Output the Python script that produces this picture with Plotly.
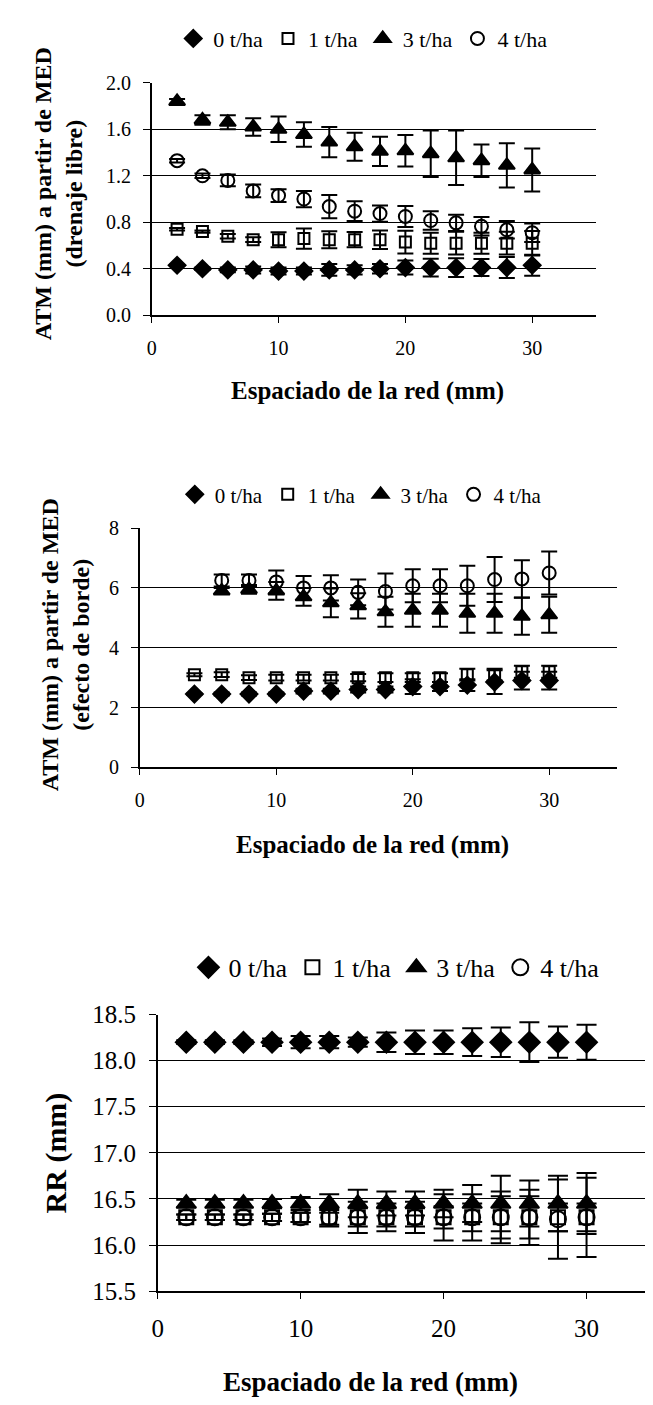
import plotly.graph_objects as go

# ---------------- data ----------------
x_free = [2, 4, 6, 8, 10, 12, 14, 16, 18, 20, 22, 24, 26, 28, 30]
free_0 = [0.43, 0.40, 0.39, 0.39, 0.38, 0.38, 0.39, 0.39, 0.40, 0.41, 0.41, 0.41, 0.41, 0.41, 0.43]
free_0_err = [0.005, 0.01, 0.02, 0.03, 0.03, 0.03, 0.05, 0.04, 0.04, 0.06, 0.077, 0.08, 0.073, 0.09, 0.09]
free_1 = [0.74, 0.72, 0.68, 0.65, 0.65, 0.66, 0.65, 0.65, 0.65, 0.63, 0.62, 0.62, 0.62, 0.62, 0.62]
free_1_err = [0.01, 0.01, 0.02, 0.02, 0.065, 0.087, 0.073, 0.066, 0.08, 0.098, 0.09, 0.098, 0.09, 0.098, 0.105]
free_3 = [1.84, 1.68, 1.66, 1.62, 1.60, 1.555, 1.49, 1.45, 1.41, 1.415, 1.39, 1.355, 1.33, 1.29, 1.25]
free_3_err = [0.02, 0.04, 0.06, 0.075, 0.11, 0.105, 0.13, 0.12, 0.125, 0.135, 0.2, 0.235, 0.14, 0.19, 0.185]
free_4 = [1.33, 1.20, 1.16, 1.07, 1.03, 1.00, 0.935, 0.895, 0.875, 0.85, 0.815, 0.795, 0.765, 0.735, 0.71]
free_4_err = [0.015, 0.02, 0.05, 0.055, 0.055, 0.07, 0.1, 0.085, 0.07, 0.09, 0.08, 0.07, 0.08, 0.075, 0.08]

x_edge_a = [4, 6, 8, 10, 12, 14, 16, 18, 20, 22, 24, 26, 28, 30]
x_edge_b = [6, 8, 10, 12, 14, 16, 18, 20, 22, 24, 26, 28, 30]
edge_0 = [2.45, 2.45, 2.45, 2.45, 2.55, 2.55, 2.6, 2.6, 2.7, 2.7, 2.75, 2.85, 2.9, 2.9]
edge_0_err = [0.02, 0.05, 0.05, 0.05, 0.08, 0.08, 0.1, 0.1, 0.25, 0.15, 0.2, 0.4, 0.3, 0.3]
edge_1 = [3.1, 3.1, 3.0, 3.0, 3.0, 3.0, 3.0, 3.0, 3.0, 3.0, 3.1, 3.1, 3.2, 3.2]
edge_1_err = [0.05, 0.08, 0.08, 0.1, 0.1, 0.1, 0.12, 0.15, 0.15, 0.15, 0.2, 0.2, 0.2, 0.2]
edge_3 = [5.9, 5.95, 5.9, 5.7, 5.5, 5.4, 5.2, 5.25, 5.25, 5.15, 5.15, 5.05, 5.1]
edge_3_err = [0.1, 0.15, 0.3, 0.3, 0.48, 0.42, 0.5, 0.55, 0.55, 0.65, 0.65, 0.62, 0.6]
edge_4 = [6.25, 6.25, 6.2, 6.0, 6.0, 5.85, 5.88, 6.07, 6.07, 6.07, 6.28, 6.3, 6.5]
edge_4_err = [0.2, 0.2, 0.38, 0.4, 0.42, 0.43, 0.6, 0.55, 0.55, 0.67, 0.75, 0.62, 0.72]

x_rr = [2, 4, 6, 8, 10, 12, 14, 16, 18, 20, 22, 24, 26, 28, 30]
rr_0 = [18.2] * 15
rr_0_err = [0.02, 0.02, 0.02, 0.04, 0.067, 0.067, 0.05, 0.106, 0.128, 0.128, 0.15, 0.16, 0.215, 0.17, 0.19]
rr_1 = [16.3, 16.3, 16.3, 16.3, 16.3, 16.3, 16.3, 16.3, 16.3, 16.3, 16.3, 16.3, 16.3, 16.3, 16.3]
rr_1_err = [0.03, 0.03, 0.03, 0.04, 0.05, 0.08, 0.1, 0.1, 0.1, 0.12, 0.15, 0.23, 0.23, 0.15, 0.15]
rr_3 = [16.45, 16.45, 16.45, 16.45, 16.45, 16.45, 16.45, 16.45, 16.45, 16.45, 16.45, 16.45, 16.45, 16.45, 16.45]
rr_3_err = [0.04, 0.04, 0.04, 0.05, 0.07, 0.1, 0.15, 0.13, 0.13, 0.15, 0.2, 0.3, 0.25, 0.3, 0.33]
rr_4 = [16.3, 16.3, 16.3, 16.3, 16.3, 16.3, 16.3, 16.3, 16.3, 16.3, 16.3, 16.3, 16.3, 16.28, 16.3]
rr_4_err = [0.03, 0.03, 0.03, 0.04, 0.05, 0.1, 0.17, 0.15, 0.17, 0.25, 0.25, 0.28, 0.3, 0.43, 0.43]

series_names = ["0 t/ha", "1 t/ha", "3 t/ha", "4 t/ha"]

# ---------------- styling ----------------
FONT = "Liberation Serif"
W, H = 653, 1405
symbols = ["diamond", "square-open", "triangle-up", "circle-open"]


def msize(sym, big):
    base = {"diamond": 13, "square-open": 11, "triangle-up": 14, "circle-open": 13}[sym]
    return base + (3 if big else 0)


fig = go.Figure()

panels = [
    ([x_free] * 4, [free_0, free_1, free_3, free_4],
     [free_0_err, free_1_err, free_3_err, free_4_err], "x", "y", "legend", False, 8),
    ([x_edge_a, x_edge_a, x_edge_b, x_edge_b], [edge_0, edge_1, edge_3, edge_4],
     [edge_0_err, edge_1_err, edge_3_err, edge_4_err], "x2", "y2", "legend2", False, 8),
    ([x_rr] * 4, [rr_0, rr_1, rr_3, rr_4],
     [rr_0_err, rr_1_err, rr_3_err, rr_4_err], "x3", "y3", "legend3", True, 10),
]

for xs, ys, errs, xa, ya, lg, big, ew in panels:
    for i in range(4):
        sym = symbols[i]
        fig.add_trace(go.Scatter(
            x=xs[i], y=ys[i], mode="markers", name=series_names[i],
            xaxis=xa, yaxis=ya, legend=lg,
            marker=dict(symbol=sym, size=msize(sym, big), color="black",
                        line=dict(color="black", width=2)),
            error_y=dict(type="data", array=errs[i], visible=True, color="black",
                         thickness=2, width=ew),
        ))


def px_x(p):
    return p / W


def px_y(p):
    return 1 - p / H


dom = {
    1: dict(x=(139, 587), y=(63, 300)),
    2: dict(x=(127, 609), y=(517, 761)),
    3: dict(x=(145, 650), y=(1013, 1295)),
}

tick_sizes = {1: 20, 2: 20, 3: 25}
y_ranges = {1: ([0, 2.0], 0.4, ".1f"), 2: ([0, 8], 2, "d"), 3: ([15.5, 18.5], 0.5, ".1f")}

for k in (1, 2, 3):
    sx = "" if k == 1 else str(k)
    d = dom[k]
    fig.layout["xaxis" + sx] = dict(
        domain=[px_x(d["x"][0]), px_x(d["x"][1])], range=[0, 35], dtick=10, tick0=0,
        anchor="y" + sx, showgrid=False, zeroline=False, showline=True,
        linecolor="black", linewidth=2, ticks="outside", ticklen=6, tickcolor="black",
        tickwidth=1, ticklabelstandoff=8,
        tickfont=dict(family=FONT, size=tick_sizes[k], color="black"),
    )
    rng, dt, fmt = y_ranges[k]
    fig.layout["yaxis" + sx] = dict(
        domain=[px_y(d["y"][1]), px_y(d["y"][0])], range=rng, dtick=dt, tick0=rng[0],
        tickformat=fmt, anchor="x" + sx, showgrid=True, gridcolor="black", gridwidth=1,
        zeroline=False, showline=True, linecolor="black", linewidth=1.5,
        ticks="outside", ticklen=7, tickcolor="black", tickwidth=1, ticklabelstandoff=8,
        tickfont=dict(family=FONT, size=tick_sizes[k], color="black"),
    )

legend_common = dict(orientation="h", xanchor="center", yanchor="middle",
                     bgcolor="rgba(0,0,0,0)", borderwidth=0)
fig.update_layout(
    legend=dict(legend_common, x=px_x(352), y=px_y(18),
                font=dict(family=FONT, size=22, color="black")),
    legend2=dict(legend_common, x=px_x(350), y=px_y(483),
                 font=dict(family=FONT, size=21, color="black")),
    legend3=dict(legend_common, x=px_x(386), y=px_y(965),
                 font=dict(family=FONT, size=26, color="black")),
)

annots = [
    ("<b>ATM (mm) a partir de MED</b><br><b>(drenaje libre)</b>", 45, 176, -90, 24),
    ("<b>ATM (mm) a partir de MED</b><br><b>(efecto de borde)</b>", 52, 636, -90, 24),
    ("<b>RR (mm)</b>", 42, 1154, -90, 30),
    ("<b>Espaciado de la red (mm)</b>", (139 + 587) / 2 - 6, 377, 0, 25),
    ("<b>Espaciado de la red (mm)</b>", (127 + 609) / 2 - 6, 840, 0, 25),
    ("<b>Espaciado de la red (mm)</b>", 360, 1388, 0, 27),
]
for text, ax, ay, ang, fs in annots:
    fig.add_annotation(text=text, x=px_x(ax), y=px_y(ay), xref="paper", yref="paper",
                       showarrow=False, textangle=ang, xanchor="center", yanchor="middle",
                       font=dict(family=FONT, size=fs, color="black"))

fig.update_layout(
    width=W, height=H, margin=dict(l=0, r=0, t=0, b=0),
    paper_bgcolor="white", plot_bgcolor="white", showlegend=True,
)

fig.write_html("out.html")
